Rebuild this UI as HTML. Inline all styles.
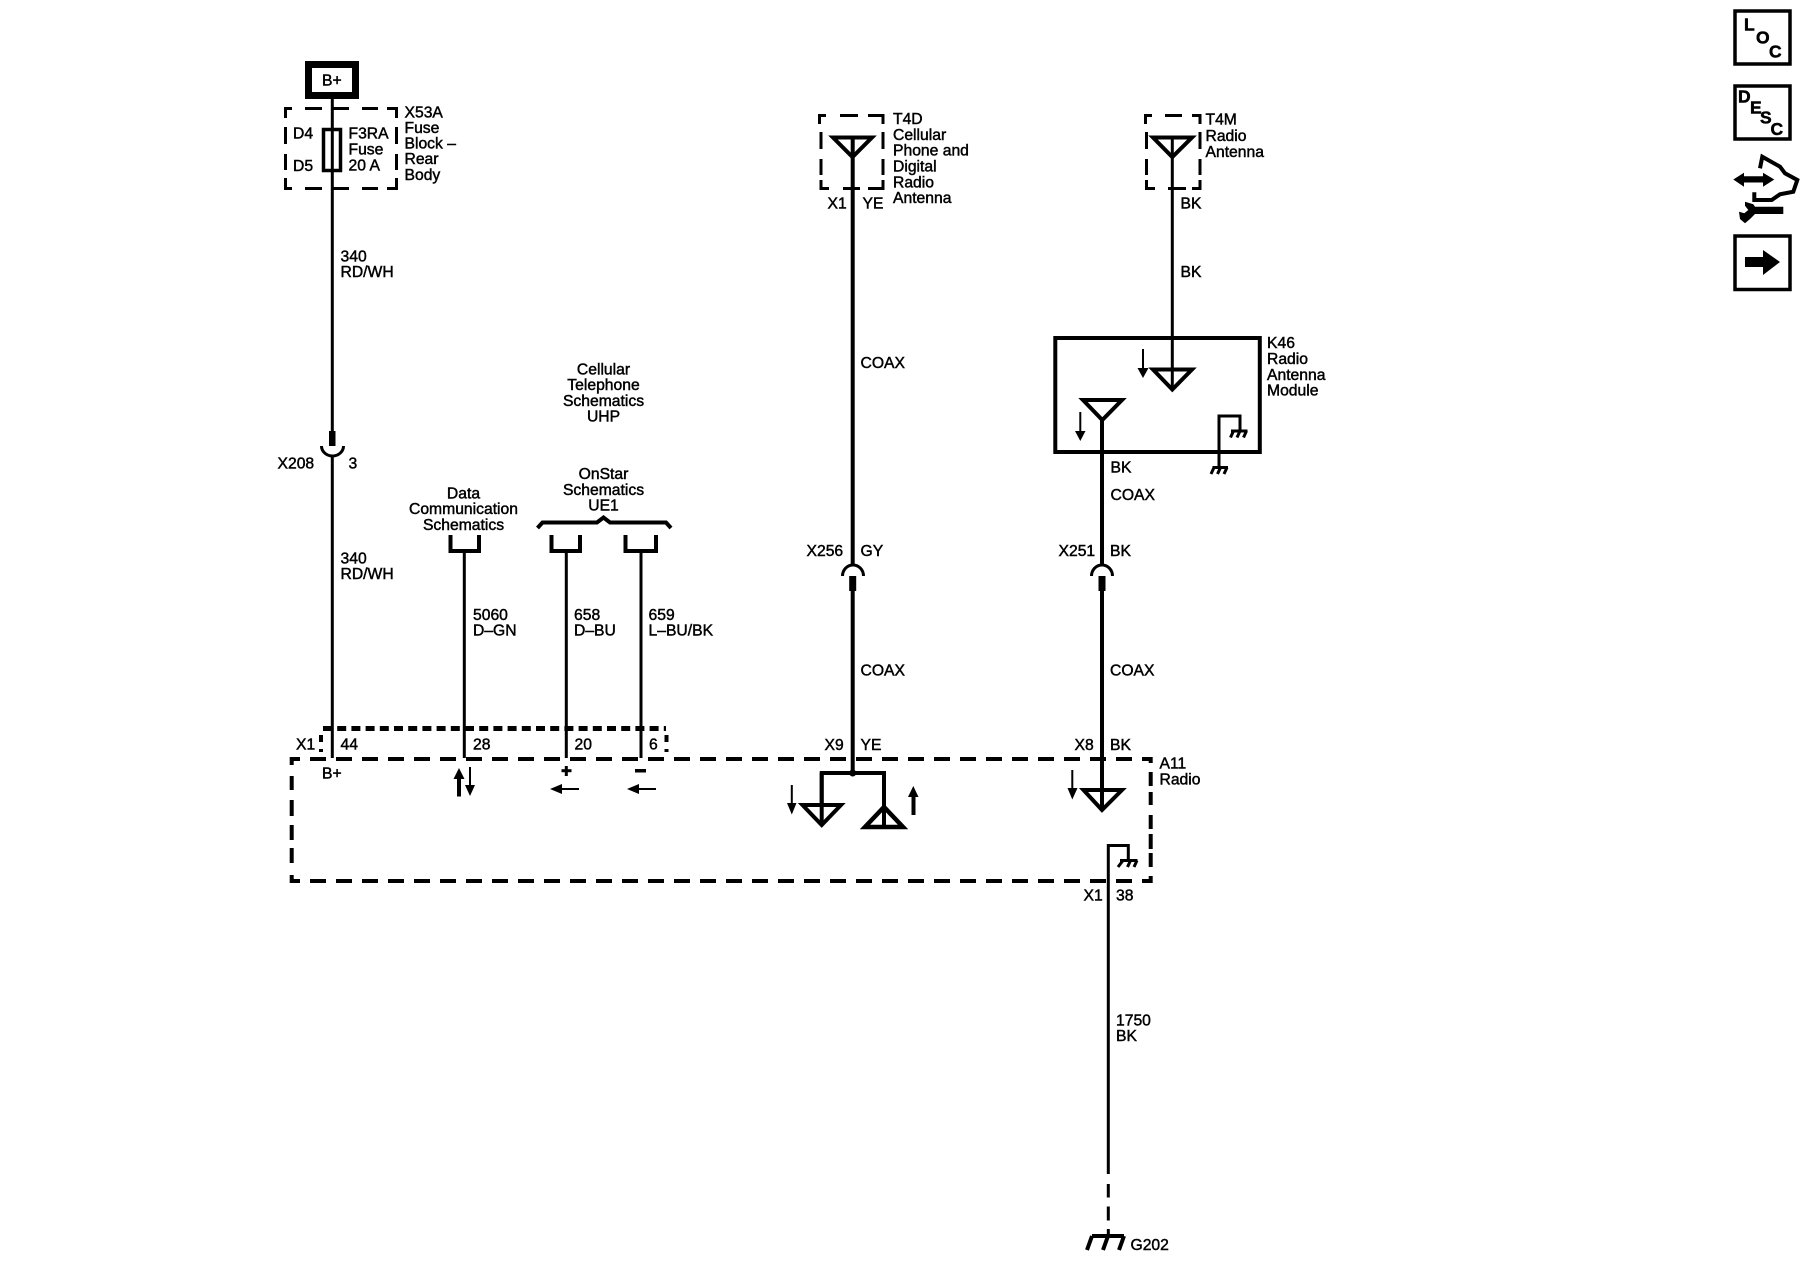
<!DOCTYPE html>
<html><head><meta charset="utf-8"><title>Radio wiring schematic</title>
<style>
html,body{margin:0;padding:0;background:#fff}
svg{display:block}
text{font-family:"Liberation Sans",sans-serif;font-size:15.7px;fill:#000;stroke:#000;stroke-width:.45px}
.c{text-anchor:middle}
.b{font-weight:bold;font-size:17.5px;stroke-width:.5px}
.w{fill:none;stroke:#000;stroke-width:3px}
.t{fill:none;stroke:#000;stroke-width:4px}
.k{fill:#000;stroke:none}
</style></head><body>
<svg width="1800" height="1280" viewBox="0 0 1800 1280" xmlns="http://www.w3.org/2000/svg">
<rect width="1800" height="1280" fill="#fff"/>

<!-- B+ and fuse block -->
<rect x="308.5" y="64.5" width="47" height="31" fill="none" stroke="#000" stroke-width="7"/>
<text x="322" y="85.5">B+</text>
<path class="w" d="M285.5 118V108.5H292M305 108.5H322M332 108.5H349M362 108.5H378M387 108.5H396.5V118M285.5 127V144M285.5 154V170M285.5 178V188.5H292M305 188.5H322M332 188.5H349M362 188.5H378M387 188.5H396.5V178M396.5 127V144M396.5 154V170" stroke-width="3.5"/>
<path class="w" d="M332.3 96V431"/>
<rect x="323.5" y="129.5" width="17" height="41" fill="none" stroke="#000" stroke-width="3.5"/>
<text x="293" y="138.5">D4</text><text x="293" y="171">D5</text>
<text x="348.5" y="138.5">F3RA</text><text x="348.5" y="154.3">Fuse</text><text x="348.5" y="170.3">20 A</text>
<text x="404.5" y="117.5">X53A</text><text x="404.5" y="133">Fuse</text><text x="404.5" y="148.5">Block –</text><text x="404.5" y="164">Rear</text><text x="404.5" y="180">Body</text>
<text x="340.5" y="261.5">340</text><text x="340.5" y="277">RD/WH</text>

<!-- X208 -->
<rect class="k" x="329" y="431" width="6.5" height="15"/>
<path class="w" d="M321.5 446A11 10 0 0 0 343.5 446"/>
<path class="w" d="M332.3 456V758"/>
<text x="277.5" y="468.5">X208</text><text x="348.5" y="468.5">3</text>
<text x="340.5" y="563.5">340</text><text x="340.5" y="579">RD/WH</text>

<!-- Reference labels -->
<text class="c" x="603.5" y="374.5">Cellular</text><text class="c" x="603.5" y="390">Telephone</text><text class="c" x="603.5" y="406">Schematics</text><text class="c" x="603.5" y="421.5">UHP</text>
<text class="c" x="603.5" y="479">OnStar</text><text class="c" x="603.5" y="495">Schematics</text><text class="c" x="603.5" y="510.5">UE1</text>
<text class="c" x="463.5" y="498.5">Data</text><text class="c" x="463.5" y="514">Communication</text><text class="c" x="463.5" y="530">Schematics</text>
<path class="t" d="M537.5 528L542.5 522.5H597L603.5 517.5L610 522.5H666L671 528"/>
<path class="t" d="M450.5 535V551H479V535M551.5 535V551H580V535M625.5 535V551H656V535"/>
<path class="w" d="M464.3 551V758M566.3 551V758M641 551V758"/>
<text x="473" y="620">5060</text><text x="473" y="635.5">D–GN</text>
<text x="574" y="620">658</text><text x="574" y="635.5">D–BU</text>
<text x="648.5" y="620">659</text><text x="648.5" y="635.5">L–BU/BK</text>

<!-- X1 connector -->
<path d="M323 728.5H666" fill="none" stroke="#000" stroke-width="5" stroke-dasharray="9 5.2"/>
<path d="M321 735V742M321 749V752M666.5 735V742M666.5 749V752" fill="none" stroke="#000" stroke-width="4"/>
<text x="296" y="749.5">X1</text><text x="340.5" y="749.5">44</text><text x="473" y="749.5">28</text><text x="574.5" y="749.5">20</text><text x="649" y="749.5">6</text>

<!-- A11 radio box -->
<path d="M291.7 759H1150.7" fill="none" stroke="#000" stroke-width="4" stroke-dasharray="16 10" stroke-dashoffset="7.7"/>
<path d="M291.7 881H1150.7" fill="none" stroke="#000" stroke-width="4" stroke-dasharray="16 10" stroke-dashoffset="7.7"/>
<path d="M291.7 757V765M291.7 776V790M291.7 800V816M291.7 825V840M291.7 848V863M291.7 875V883" fill="none" stroke="#000" stroke-width="4"/>
<path d="M1150.7 757V763M1150.7 772V786M1150.7 792V805M1150.7 815V829M1150.7 834V849M1150.7 853V867M1150.7 876V883" fill="none" stroke="#000" stroke-width="4"/>
<text x="322" y="778.5">B+</text>
<text x="1159.5" y="768.5">A11</text><text x="1159.5" y="784.5">Radio</text>

<!-- Pin arrows -->
<path class="k" d="M457 796.5V779H453.5L459 768L464.5 779H461V796.5Z"/>
<path class="k" d="M469 767V785H465L470 796L475 785H471V767Z"/>
<rect class="k" x="564.8" y="766" width="3" height="10"/><rect class="k" x="561.5" y="769.2" width="10" height="3"/>
<rect class="k" x="635" y="769" width="11" height="3.5"/>
<path class="k" d="M579 788V790H562V794L550 789L562 784V788Z"/>
<path class="k" d="M656 788V790H639V794L627 789L639 784V788Z"/>

<!-- T4D -->
<path class="w" d="M819.5 124V115.5H826M840 115.5H858M868 115.5H883V124M821 132V149M821 159V175M821 180V188.5H829M843 188.5H860M868 188.5H883V180M883 132V149M883 159V175" stroke-width="3.5"/>
<path class="t" d="M833 137.5H872L852.5 157Z"/>
<path class="t" d="M852.7 137V564"/>
<text x="893" y="124">T4D</text><text x="893" y="140">Cellular</text><text x="893" y="155.5">Phone and</text><text x="893" y="171.5">Digital</text><text x="893" y="187.5">Radio</text><text x="893" y="203">Antenna</text>
<text x="827.5" y="208.5">X1</text><text x="862.5" y="208.5">YE</text>
<text x="860.5" y="368">COAX</text>

<!-- X256 -->
<text x="806.5" y="556">X256</text><text x="860.5" y="556">GY</text>
<path class="w" d="M842.5 576A10.5 11 0 0 1 863.5 576"/>
<rect class="k" x="849.2" y="576" width="7" height="15"/>
<path class="t" d="M852.7 590V773"/>
<text x="860.5" y="675.5">COAX</text>
<text x="824.5" y="750">X9</text><text x="860.5" y="750">YE</text>
<path class="t" d="M821.7 805V773H884V806"/>
<circle class="k" cx="852.7" cy="773" r="3.5"/>
<path class="t" d="M802.5 805H841L821.7 825Z"/>
<path class="t" d="M821.7 773V825"/>
<path d="M865 827H903L884 807Z" fill="none" stroke="#000" stroke-width="4.5"/>
<path class="t" d="M884 773V826"/>
<path class="k" d="M790.8 785H792.8V803H796.5L791.8 814.5L787 803H790.8Z"/>
<path class="k" d="M911.5 815V797H908L913.3 786L918.5 797H915.5V815Z"/>

<!-- T4M -->
<path class="w" d="M1145.5 124V115.5H1152M1165 115.5H1182M1192 115.5H1200V124M1146.5 132V149M1146.5 159V175M1146.5 180V188.5H1155M1168 188.5H1186M1192 188.5H1200V180M1200 132V149M1200 159V175" stroke-width="3.5"/>
<path class="t" d="M1153 137.5H1192L1172.3 157Z"/>
<path class="w" d="M1172.3 137V390"/>
<text x="1205.5" y="124.5">T4M</text><text x="1205.5" y="141">Radio</text><text x="1205.5" y="157">Antenna</text>
<text x="1180.5" y="208.5">BK</text><text x="1180.5" y="277">BK</text>

<!-- K46 -->
<rect x="1055.3" y="338" width="204.5" height="114" fill="none" stroke="#000" stroke-width="4"/>
<text x="1267" y="348">K46</text><text x="1267" y="364">Radio</text><text x="1267" y="380">Antenna</text><text x="1267" y="395.5">Module</text>
<path class="t" d="M1153 369.5H1192L1172.3 389.5Z"/>
<path class="k" d="M1142 349H1144V368H1148.5L1143 378L1137.5 368H1142Z"/>
<path class="t" d="M1083 400H1122L1102.3 420Z"/>
<path class="k" d="M1079.3 412H1081.3V431H1085.5L1080.3 441L1075 431H1079.3Z"/>
<path class="w" d="M1219 466V416H1240V430"/>
<path class="w" d="M1231 431H1247.5"/>
<path class="w" d="M1233.5 431L1230.5 437.5M1240 431L1237 437.5M1246.5 431L1243.5 437.5" stroke-width="2.5"/>
<path class="w" d="M1212.5 467.5H1228"/>
<path class="w" d="M1214 467.5L1211 474M1220.5 467.5L1217.5 474M1227 467.5L1224 474" stroke-width="2.5"/>
<text x="1110.5" y="472.5">BK</text><text x="1110.5" y="500">COAX</text>

<!-- X251 -->
<text x="1058.5" y="556">X251</text><text x="1110" y="556">BK</text>
<path class="t" d="M1102 420V564"/>
<path class="w" d="M1091.5 576A10.5 11 0 0 1 1112.5 576"/>
<rect class="k" x="1098.5" y="576" width="7" height="15"/>
<path class="t" d="M1102 590V811"/>
<text x="1110" y="675.5">COAX</text>
<text x="1074.5" y="750">X8</text><text x="1110" y="750">BK</text>
<path class="t" d="M1083.5 790H1122L1102 810Z"/>
<path class="k" d="M1071.3 770H1073.3V788H1077.5L1072.3 799.5L1067.5 788H1071.3Z"/>

<!-- Ground -->
<path class="w" d="M1108.3 1174V845.5H1128.3V860"/>
<path class="w" d="M1120 860.5H1137.5"/>
<path class="w" d="M1123 860.5L1118 867M1130.5 860.5L1127.5 867M1137 860.5L1134 867" stroke-width="2.5"/>
<text x="1083.5" y="900.5">X1</text><text x="1116" y="900.5">38</text>
<text x="1116" y="1025.5">1750</text><text x="1116" y="1041">BK</text>
<path class="w" d="M1108.3 1184V1197.5M1108.3 1206.5V1220.5M1108.3 1229V1236"/>
<path class="t" d="M1092 1236H1124M1092 1236L1087 1250M1108 1236L1103 1250M1124 1236L1119 1250"/>
<text x="1130.5" y="1250">G202</text>

<!-- Side icons -->
<rect x="1735" y="11" width="55" height="53" fill="#fff" stroke="#000" stroke-width="3.5"/>
<text class="b" x="1744" y="30.7">L</text><text class="b" x="1756" y="43.3">O</text><text class="b" x="1769" y="57.3">C</text>
<rect x="1735" y="86" width="55" height="53" fill="#fff" stroke="#000" stroke-width="3.5"/>
<text class="b" x="1738" y="102.7">D</text><text class="b" x="1750" y="113.3">E</text><text class="b" x="1760" y="123.3">S</text><text class="b" x="1770.5" y="135">C</text>
<path d="M1760 168.3L1762.3 156.7L1780 166.7L1785 173.3L1797.3 180L1793.3 191.7L1780 194.3L1771.7 200H1754.3V192.3" fill="none" stroke="#000" stroke-width="4"/>
<path class="k" d="M1733.3 179.5L1744 172.7V176.3H1763V172.7L1774.3 179.5L1763 186.7V182.5H1744V186.7Z"/>
<path class="k" d="M1745 201.7L1753.3 204.3L1755 206.7H1783.3V214H1755L1750 219L1745 223.3L1740 219L1739 211.7L1744.3 213.3L1748.3 210L1745 205.7Z"/>
<rect x="1735" y="236" width="55" height="53.5" fill="#fff" stroke="#000" stroke-width="3.5"/>
<path class="k" d="M1745 257H1763V250L1780 262L1763 275V267H1745Z"/>
</svg>
</body></html>
